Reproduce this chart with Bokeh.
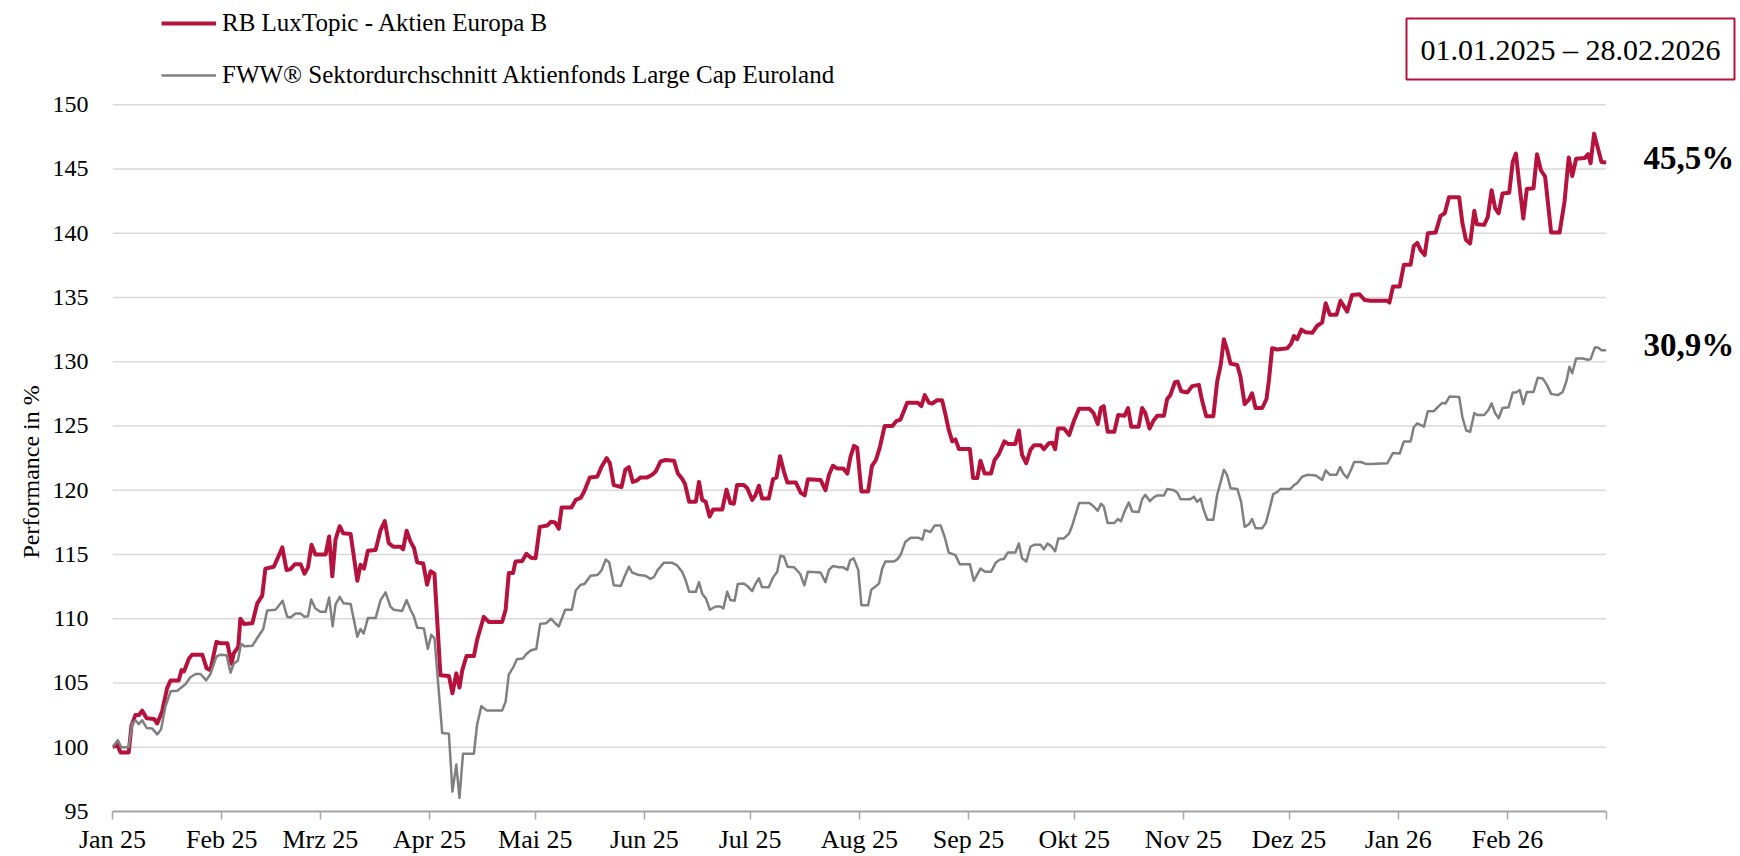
from bokeh.plotting import figure
from bokeh.models import Range1d, FixedTicker, Legend, LegendItem, Label, Title
from bokeh.embed import file_html
from bokeh.resources import INLINE
import pandas as pd

# ---------------- data ----------------
# x values: days since 2025-01-01
red_day = [0, 1.3, 2.3, 4.6, 5.4, 6.5, 7.5, 8.4, 9.7, 11.8, 12.7, 14.1, 15.5, 16.5, 18.8, 19.6, 20.3, 21.7, 22.6, 25.5,
           26.7, 27.8, 29.5, 30.6, 32.6, 33.8, 34.4, 35.7, 36.3, 37.3, 39.7, 41.1, 42.5, 43.4, 45.8, 46.7, 48.2, 49.4,
           50.5, 51.8, 53.4, 54.5, 55.5, 56.5, 57.6, 60.5, 61.5, 62.4, 63.3, 64.5, 65.5, 67.6, 69.5,
           70.4, 71.4, 72.5, 74.7, 76.1, 77.3, 78.4, 79.7, 81.8, 82.5, 83.5, 84.6, 85.6, 86.5, 88.2, 89.3, 90.3, 91.4,
           93.1, 95.5, 96.5, 97.6, 98.5, 99.3, 100.5, 102.6, 103.5, 105.4, 106.8, 110.6, 111.6, 112.5, 113.7, 114.4,
           116.3, 117.5, 118.8, 120.1, 121.3, 123.4, 124.5, 125.6, 126.7, 127.5, 130.3, 131.5, 132.9, 133.9, 135.5,
           137.6, 138.8, 140.3, 141.2, 142.3, 144.5,
           145.6, 146.6, 147.7, 148.8, 149.9, 151.8, 153.2, 154.2, 155.6, 157.0, 159.4, 160.5, 161.7, 162.5, 163.7,
           165.6, 166.5, 167.4, 168.4, 169.5, 170.5, 173.1, 174.3, 175.4, 176.4, 177.3, 179.2, 180.2, 181.6, 182.5,
           183.5, 184.4, 186.3, 187.5, 188.5, 189.5, 190.6, 191.6, 194.0, 195.4, 196.5, 197.4, 201.0, 202.4, 203.4,
           204.5, 205.7, 207.4, 208.6, 209.5, 210.5, 211.4, 212.6, 214.5,
           215.6, 216.7, 217.8, 219.2, 221.4, 222.6, 223.7, 225.6, 228.6, 229.6, 230.6, 231.8, 232.7, 234.1, 235.5,
           236.5, 237.4, 238.4, 239.3, 240.3, 243.4, 244.3, 245.5, 246.4, 247.6, 249.4, 250.4, 251.6, 253.2, 254.2,
           256.3, 257.3, 258.2, 259.4, 260.6, 261.6, 263.5, 264.4, 265.8, 266.8, 267.6, 268.4, 270.1, 271.6, 273.0,
           274.4, 277.3, 278.5, 279.7, 280.6, 281.4, 282.5, 284.4, 285.5,
           287.3, 288.3, 289.2, 291.3, 292.3, 293.2, 294.4, 295.6, 296.6, 298.5, 299.4, 300.3, 301.6, 302.4, 303.4,
           305.1, 306.5, 308.4, 309.3, 310.5, 312.5, 313.6, 314.6, 315.5, 316.4, 317.4, 319.3, 320.2, 321.4, 322.6,
           323.5, 324.5, 326.4, 327.6, 328.3, 329.2, 330.6, 333.5, 334.6, 335.4, 336.3, 337.5, 338.7, 340.6, 342.0,
           343.4, 344.4, 345.6, 347.5, 348.6, 350.5, 351.9, 354.0, 355.5,
           357.1, 361.9, 362.5, 363.5, 365.4, 366.6, 368.5, 369.4, 370.4, 371.3, 372.5, 373.4, 375.6, 377.0, 378.2,
           379.4, 382.3, 383.2, 384.2, 385.4, 386.6, 387.3, 389.4, 390.4, 391.5, 392.5, 393.5, 394.6, 396.5, 397.5,
           398.4, 399.4, 400.5, 401.5, 403.4, 404.4, 405.5, 406.7, 408.4, 410.8, 412.2, 413.4, 414.4, 415.5, 417.9,
           418.9, 419.6, 420.6, 422.7, 424.0]
red_val = [100.0, 100.2, 99.6, 99.6, 101.7, 102.5, 102.5, 102.85, 102.25, 102.2, 101.85, 102.8, 104.6, 105.2, 105.2,
           106.0, 105.9, 106.9, 107.2, 107.2, 106.15, 106.0, 108.2, 108.1, 108.1, 106.5, 107.3, 107.8, 110.0, 109.6,
           109.65, 111.2, 111.8, 113.9, 114.05, 114.6, 115.55, 113.8, 113.85, 114.25, 114.25, 113.5, 114.0, 115.75,
           115.0, 115.0, 116.4, 113.3, 116.15, 117.2, 116.65, 116.6, 112.95,
           114.2, 113.9, 115.3, 115.35, 116.9, 117.6, 115.9, 115.6, 115.6, 115.4, 116.85, 116.0, 115.5, 114.4, 114.3,
           112.65, 113.7, 113.5, 105.6, 105.55, 104.2, 105.75, 104.65, 106.0, 107.1, 107.1, 108.35, 110.15, 109.75,
           109.75, 110.7, 113.55, 113.55, 114.45, 114.5, 115.05, 114.75, 114.7, 117.15, 117.25, 117.55, 117.5, 117.0,
           118.65, 118.65, 119.25, 119.4, 119.9, 121.0, 121.05, 121.8, 122.5, 122.1, 120.4, 120.25,
           121.6, 121.8, 120.65, 120.75, 121.0, 121.0, 121.2, 121.45, 122.25, 122.35, 122.3, 121.3, 120.9, 120.5,
           119.1, 119.1, 120.65, 119.25, 119.1, 117.95, 118.5, 118.5, 120.05, 119.0, 118.95, 120.4, 120.4, 120.15,
           119.25, 119.6, 120.35, 119.35, 119.35, 120.85, 121.0, 122.65, 121.45, 120.6, 120.6, 119.8, 119.6, 120.85,
           120.8, 120.0, 121.2, 121.9, 121.7, 121.7, 121.3, 122.6, 123.45, 123.3, 119.9, 119.9,
           121.9, 122.35, 123.3, 125.0, 125.0, 125.4, 125.5, 126.8, 126.8, 126.55, 127.4, 126.8, 126.75, 127.0, 127.0,
           125.85, 124.7, 123.8, 123.95, 123.2, 123.2, 120.95, 120.95, 122.3, 121.3, 121.3, 122.35, 122.8, 123.8,
           123.6, 123.6, 124.65, 122.75, 122.1, 123.15, 123.5, 123.5, 123.2, 123.65, 123.7, 123.2, 124.8, 124.8,
           124.3, 125.45, 126.35, 126.35, 126.0, 125.15, 126.4, 126.55, 124.55, 124.55, 125.85,
           125.8, 126.4, 124.95, 124.95, 126.4, 126.0, 124.8, 125.45, 125.8, 125.8, 127.1, 127.4, 128.4, 128.45,
           127.7, 127.6, 128.1, 128.2, 127.0, 125.75, 125.75, 128.45, 129.75, 131.75, 130.95, 129.85, 129.75, 128.85,
           126.7, 127.05, 127.55, 126.4, 126.4, 127.1, 128.6, 131.05, 130.95, 131.05, 131.4, 132.0, 131.75, 132.5,
           132.3, 132.25, 132.8, 133.05, 134.55, 133.65, 133.65, 134.75, 133.9, 135.2, 135.25, 134.8,
           134.75, 134.75, 134.6, 135.85, 135.85, 137.55, 137.55, 139.0, 139.25, 138.7, 138.3, 140.0, 140.05, 141.35,
           141.55, 142.8, 142.8, 140.8, 139.5, 139.2, 141.75, 140.7, 140.65, 141.25, 143.35, 141.95, 141.55, 143.1,
           143.15, 145.55, 146.2, 143.75, 141.15, 143.45, 143.5, 146.15, 144.9, 144.4, 140.05, 140.05, 142.45, 145.9,
           144.45, 145.8, 145.85, 146.15, 145.45, 147.75, 145.55, 145.5]

gray_day = [0, 1.5, 2.5, 4.6, 5.6, 6.5, 7.5, 8.4, 9.7, 11.3, 12.7, 13.8, 15.0, 16.5, 18.4, 19.8, 20.7, 22.1, 23.6,
            25.0, 26.6, 27.8, 29.5, 30.6, 32.4, 33.5, 34.4, 35.6, 36.5, 37.5, 39.7, 41.1, 42.8, 43.9, 46.3, 48.3,
            49.6, 50.5, 52.0, 53.4, 54.5, 55.5, 56.4, 57.6, 59.0, 60.5, 61.5, 62.5, 63.3, 64.5, 65.6, 67.6, 69.5,
            70.4, 71.3, 72.5, 74.7, 76.1, 77.5, 78.9, 79.8, 82.2, 83.5, 84.6, 85.6, 86.5, 88.4, 89.5, 90.5, 91.4, 93.6,
            95.5, 96.5, 97.6, 98.5, 99.5, 102.6, 103.5, 104.7, 106.3, 110.6, 111.6, 112.5, 113.9, 114.8, 116.5, 117.5,
            118.8, 120.3, 121.4, 123.1, 124.5, 125.7, 126.7, 128.5, 130.4, 131.5, 132.9, 134.0, 135.7, 137.6, 138.8,
            140.0, 141.0, 142.3, 144.3,
            145.3, 146.6, 147.5, 149.4, 151.3, 152.7, 153.7, 154.8, 156.5, 158.9, 160.3, 161.7, 162.7, 163.7, 165.6,
            166.5, 167.4, 168.5, 169.6, 171.2, 172.6, 173.4, 174.5, 175.4, 176.6, 177.5, 179.2, 180.2, 181.6, 182.5,
            183.5, 184.4, 186.3, 187.5, 188.7, 189.6, 190.6, 191.6, 193.5, 195.2, 196.4, 197.4, 201.0, 202.4, 203.4,
            204.5, 206.2, 207.4, 208.6, 209.4, 210.4, 211.7, 212.6, 214.5,
            215.4, 216.6, 217.6, 218.5, 219.4, 221.8, 222.7, 223.7, 225.1, 226.6, 228.9, 229.9, 230.6, 232.2, 233.4,
            235.1, 236.2, 237.4, 239.3, 240.5, 243.4, 244.5, 246.4, 247.8, 249.4, 250.7, 251.9, 253.0, 254.2, 256.3,
            257.3, 258.2, 259.4, 260.6, 261.6, 263.5, 264.4, 265.4, 266.5, 267.6, 268.5, 270.1, 271.6, 272.5, 273.5,
            274.4, 277.3, 278.5, 279.7, 280.6, 281.4, 282.5, 284.4, 285.4, 286.3,
            287.3, 288.5, 289.5, 291.3, 292.3, 293.2, 294.5, 295.6, 296.6, 298.5, 299.4, 301.3, 302.3, 303.2, 306.0,
            307.0, 307.9, 308.9, 309.8, 310.8, 312.5, 313.6, 314.6, 315.5, 316.4, 317.4, 319.3, 320.4, 321.4, 322.6,
            323.5, 324.5, 326.4, 327.4, 328.3, 329.5, 330.6, 331.6, 334.4, 335.4, 336.3, 337.7, 339.2, 341.6, 343.4,
            344.4, 345.6, 347.5, 348.5, 349.4, 350.5, 351.6, 352.5, 354.4, 355.8,
            357.1, 361.9, 363.5, 365.4, 366.6, 368.5, 369.4, 370.4, 372.3, 373.4, 375.1, 376.5, 377.5, 378.4, 379.6,
            382.3, 383.2, 384.3, 385.4, 386.6, 387.5, 389.4, 390.6, 391.5, 392.5, 393.5, 394.6, 396.3, 397.5, 398.4,
            399.5, 400.5, 401.5, 403.4, 404.6, 406.0, 407.2, 408.4, 410.3, 411.7, 412.7, 413.6, 414.4, 415.5, 417.4,
            418.9, 419.6, 420.8, 421.7, 422.7, 424.0]
gray_val = [100.0, 100.55, 100.0, 100.0, 101.85, 102.1, 101.8, 102.1, 101.5, 101.45, 101.0, 101.4, 103.15, 104.35,
            104.4, 104.7, 104.9, 105.45, 105.7, 105.7, 105.2, 105.7, 107.05, 107.2, 107.15, 105.8, 106.5, 106.75,
            108.05, 107.85, 107.9, 108.5, 109.2, 110.65, 110.7, 111.4, 110.15, 110.1, 110.4, 110.4, 110.15, 110.2,
            111.5, 110.8, 110.55, 110.55, 111.65, 109.4, 111.1, 111.7, 111.2, 111.15, 108.6,
            109.2, 108.85, 110.05, 110.05, 111.45, 112.05, 110.95, 110.7, 110.6, 111.45, 110.7, 110.15, 109.3, 109.25,
            107.65, 108.75, 108.5, 101.1, 101.05, 96.55, 98.65, 96.05, 99.5, 99.5, 101.75, 103.2, 102.85, 102.85,
            103.55, 105.65, 106.3, 106.85, 106.9, 107.25, 107.55, 107.65, 109.6, 109.65, 110.0, 109.65, 109.4, 110.7,
            110.7, 112.2, 112.65, 112.7, 113.35, 113.4, 113.75, 114.6, 114.4, 112.6, 112.55,
            113.25, 114.05, 113.6, 113.4, 113.35, 113.1, 113.25, 113.8, 114.35, 114.35, 114.15, 113.65, 113.0, 112.1,
            112.1, 112.85, 111.95, 111.55, 110.7, 110.95, 110.95, 110.8, 112.1, 111.45, 111.4, 112.7, 112.75, 112.55,
            112.15, 112.7, 113.15, 112.45, 112.45, 113.2, 113.65, 114.9, 114.85, 114.05, 114.0, 113.5, 112.6, 113.65,
            113.6, 112.85, 113.8, 114.1, 114.0, 114.0, 113.8, 114.55, 114.7, 113.8, 111.05, 111.05,
            112.25, 112.5, 112.75, 113.9, 114.45, 114.45, 114.6, 114.95, 116.0, 116.3, 116.3, 116.15, 116.9, 116.75,
            117.25, 117.25, 116.4, 115.15, 114.95, 114.25, 114.25, 112.95, 113.9, 113.65, 113.65, 114.35, 114.6,
            114.65, 115.15, 115.15, 115.85, 114.7, 114.45, 115.6, 115.75, 115.75, 115.4, 115.85, 115.65, 115.25,
            116.25, 116.25, 116.65, 117.3, 118.2, 119.0, 119.0, 118.75, 118.4, 118.95, 118.75, 117.45, 117.45, 117.75,
            117.6,
            118.35, 119.05, 118.35, 118.3, 119.3, 119.65, 119.15, 119.45, 119.6, 119.6, 120.1, 120.0, 119.8, 119.3,
            119.3, 119.5, 119.1, 119.35, 118.45, 117.7, 117.7, 119.65, 120.65, 121.6, 121.2, 120.15, 120.1, 119.1,
            117.15, 117.35, 117.75, 117.05, 117.05, 117.45, 118.35, 119.7, 119.85, 120.1, 120.1, 120.4, 120.55, 121.05,
            121.2, 121.15, 120.8, 121.55, 121.2, 121.2, 121.8, 121.3, 120.95, 121.6, 122.2, 122.2, 122.05,
            122.05, 122.1, 122.9, 122.85, 123.8, 123.8, 124.9, 125.2, 124.95, 126.15, 126.15, 126.55, 126.8, 126.75,
            127.3, 127.25, 125.7, 124.65, 124.55, 126.0, 125.85, 125.85, 126.25, 126.75, 126.0, 125.6, 126.4, 126.45,
            127.6, 127.6, 127.8, 126.7, 127.65, 127.65, 128.75, 128.7, 128.2, 127.5, 127.4, 127.65, 128.45, 129.6,
            129.1, 130.25, 130.25, 130.15, 130.2, 131.1, 131.1, 130.9, 130.9]

series_names = ["RB LuxTopic - Aktien Europa B", "FWW® Sektordurchschnitt Aktienfonds Large Cap Euroland"]
period_text = "01.01.2025 – 28.02.2026"
y_title = "Performance in %"

tick_dates = ["2025-01-01", "2025-02-01", "2025-03-01", "2025-04-01", "2025-05-01", "2025-06-01", "2025-07-01",
              "2025-08-01", "2025-09-01", "2025-10-01", "2025-11-01", "2025-12-01", "2026-01-01", "2026-02-01",
              "2026-03-01"]
tick_labels = ["Jan 25", "Feb 25", "Mrz 25", "Apr 25", "Mai 25", "Jun 25", "Jul 25", "Aug 25", "Sep 25", "Okt 25",
               "Nov 25", "Dez 25", "Jan 26", "Feb 26", ""]
y_ticks = [95, 100, 105, 110, 115, 120, 125, 130, 135, 140, 145, 150]

# ---------------- chart ----------------
RED = "#B5133E"
GRAY = "#808080"
AXIS_GRAY = "#A6A6A6"
FONT = "Liberation Serif"

base = pd.Timestamp("2025-01-01")
tick_days = [float((pd.Timestamp(d) - base).days) for d in tick_dates]

# frame: left edge at 112px, runs to the right edge of the canvas, top at 0, bottom at 811px
p = figure(width=1740, height=856, output_backend="svg", toolbar_location=None,
           x_range=Range1d(tick_days[0], 462.16), y_range=Range1d(95, 158.11),
           min_border_left=112, min_border_right=0, min_border_top=0, min_border_bottom=45)
p.outline_line_color = None
p.background_fill_color = "white"
p.border_fill_color = "white"
p.xgrid.visible = False
p.ygrid.visible = False

# horizontal grid lines limited to the date span
n = len(y_ticks)
p.segment(x0=[tick_days[0]] * n, x1=[tick_days[-1]] * n, y0=y_ticks, y1=y_ticks,
          line_color="#D9D9D9", line_width=1.5)

r_red = p.line(red_day, red_val, line_color=RED, line_width=4, line_join="round")
r_gray = p.line(gray_day, gray_val, line_color=GRAY, line_width=2.5, line_join="round")

# x axis
xa = p.xaxis[0]
xa.bounds = (tick_days[0], tick_days[-1])
xa.ticker = FixedTicker(ticks=tick_days)
xa.major_label_overrides = {t: lab for t, lab in zip(tick_days, tick_labels)}
xa.axis_line_color = AXIS_GRAY
xa.axis_line_width = 2
xa.major_tick_line_color = AXIS_GRAY
xa.major_tick_line_width = 1.5
xa.major_tick_out = 8
xa.major_tick_in = 0
xa.minor_tick_line_color = None
xa.major_label_text_font = FONT
xa.major_label_text_font_size = "26px"
xa.major_label_text_color = "black"
xa.major_label_standoff = 5

# y axis (tick labels)
ya = p.yaxis[0]
ya.ticker = FixedTicker(ticks=y_ticks)
ya.axis_line_color = None
ya.major_tick_line_color = None
ya.minor_tick_line_color = None
ya.major_tick_out = 0
ya.major_tick_in = 0
ya.major_label_standoff = 24
ya.major_label_text_font = FONT
ya.major_label_text_font_size = "24px"
ya.major_label_text_color = "black"

# y title as a side title, starting from the lower part of the frame like in the reference
p.add_layout(Title(text=y_title, align="left", offset=253, standoff=12,
                   text_font=FONT, text_font_size="24px", text_font_style="normal",
                   text_color="black"), "left")

legend = Legend(items=[LegendItem(label=series_names[0], renderers=[r_red]),
                       LegendItem(label=series_names[1], renderers=[r_gray])],
                location=(49, 722), orientation="vertical",
                glyph_width=55, glyph_height=28, label_height=28, label_standoff=6, spacing=24,
                padding=0, margin=0, border_line_color=None, background_fill_alpha=0,
                label_text_font=FONT, label_text_font_size="25px", label_text_color="black")
p.add_layout(legend)

def pct(v):
    return f"{v - 100:.1f}%".replace(".", ",")

for vals in (red_val, gray_val):
    p.add_layout(Label(x=1531, y=vals[-1], y_offset=5, x_units="screen", y_units="data", text=pct(vals[-1]),
                       text_font=FONT, text_font_size="33px", text_font_style="bold",
                       text_color="black", text_baseline="middle", text_align="left"))

p.add_layout(Label(x=1294, y=793, x_units="screen", y_units="screen", text=period_text,
                   text_font=FONT, text_font_size="30px", text_color="black",
                   text_baseline="top", text_align="left",
                   border_line_color=RED, border_line_width=2, background_fill_color="white",
                   padding=14))

open("out.html", "w").write(file_html(p, INLINE))
